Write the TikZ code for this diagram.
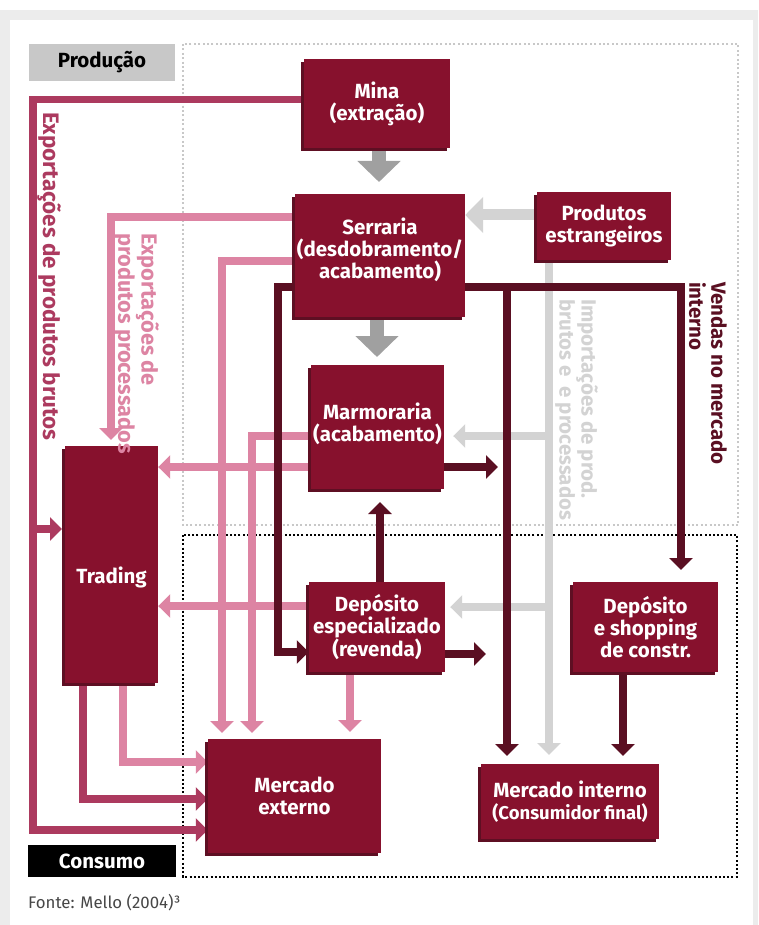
\documentclass[tikz,border=0pt]{standalone}
\usepackage{fontspec}
\setmainfont{Fira Sans}
\usetikzlibrary{arrows.meta,shadows,calc}
\definecolor{boxc}{HTML}{87112D}
\definecolor{shadc}{HTML}{5E0F23}
\definecolor{dkc}{HTML}{5A0F22}
\definecolor{brc}{HTML}{AC3A5F}
\definecolor{pkc}{HTML}{DD84A3}
\definecolor{lgc}{HTML}{D3D3D3}
\definecolor{bgc}{HTML}{A0A0A0}
\definecolor{prodc}{HTML}{C8C8C8}
\definecolor{framec}{HTML}{ECECEC}
\pgfdeclarelayer{back}
\pgfdeclarelayer{lines}
\pgfsetlayers{back,lines,main}
\begin{document}
\begin{tikzpicture}[x=1pt,y=-1pt,
  box/.style={fill=boxc,text=white,font=\bfseries\fontsize{20.5}{22}\selectfont,align=center,inner sep=0pt,
    drop shadow={shadow xshift=-3pt,shadow yshift=-3pt,fill=shadc,opacity=1}},
  boxtext/.style={text=white,font=\bfseries\fontsize{20.5}{22}\selectfont,align=center,inner sep=0pt},
  rot/.style={rotate=-90,inner sep=0pt,align=left,anchor=north west,font=\bfseries\fontsize{20.5}{22}\selectfont},
  ah/.style={-{Triangle[width=23pt,length=12pt]}},
  dk/.style={draw=dkc,line width=7.5pt,ah},
  br/.style={draw=brc,line width=7.5pt,ah},
  pk/.style={draw=pkc,line width=7.5pt,ah},
  lg/.style={draw=lgc,line width=8pt,ah},
  lgbig/.style={draw=lgc,line width=11pt,-{Triangle[width=35pt,length=18pt]}},
  bigg/.style={draw=bgc,line width=14pt,-{Triangle[width=42pt,length=21pt]}},
  gdot/.style={draw=prodc,line width=2.2pt,dash pattern=on 2pt off 2.4pt},
  kdot/.style={draw=black,line width=2.5pt,dash pattern=on 2pt off 2.2pt},
]
\useasboundingbox (0,0) rectangle (758,925);
\begin{pgfonlayer}{back}
% background frame
\fill[framec] (0,10) rectangle (758,925);
\fill[white] (10,20) rectangle (753,925);
% zone boxes
\draw[gdot] (183,44) rectangle (738,525);
\draw[kdot] (183,535) rectangle (737,877);
\end{pgfonlayer}
% zone labels
\node[fill=prodc,minimum width=146pt,minimum height=37pt,inner sep=0pt,font=\bfseries\fontsize{20.5}{22}\selectfont] (prod) at (102,62.5) {Produção};
\node[fill=black,text=white,minimum width=148pt,minimum height=32pt,inner sep=0pt,font=\bfseries\fontsize{20.5}{22}\selectfont] (cons) at (102,861) {Consumo};
\node[anchor=west,inner sep=0pt,text=black!72,font=\fontsize{16.8}{20}\selectfont] (fonte) at (28,903) {Fonte: Mello (2004)³};

% boxes
\node[box,minimum width=146pt,minimum height=89pt] (mina) at (377,103.5) {Mina\\(extração)};
\node[box,minimum width=170pt,minimum height=123pt] (serraria) at (380,255.5) {};
\node[boxtext] (serrariat) at (380,250) {Serraria\\(desdobramento/\\acabamento)};
\node[box,minimum width=134pt,minimum height=68pt] (prodest) at (604,226) {Produtos\\estrangeiros};
\node[box,minimum width=133pt,minimum height=124pt] (marm) at (377.5,427) {};
\node[boxtext] (marmt) at (377.5,424) {Marmoraria\\(acabamento)};
\node[box,minimum width=93pt,minimum height=237pt] (trading) at (111.5,564.5) {};
\node[boxtext] (tradingt) at (111.5,577) {Trading};
\node[box,minimum width=136pt,minimum height=90pt] (depesp) at (377,627) {Depósito\\especializado\\(revenda)};
\node[box,minimum width=145pt,minimum height=90pt] (depshop) at (645.5,627) {Depósito\\e shopping\\de constr.};
\node[box,minimum width=173pt,minimum height=114pt] (mext) at (294.5,796) {Mercado\\externo};
\node[box,minimum width=178pt,minimum height=75pt] (mint) at (570,801.5) {};
\node[boxtext] (mintt) at (570,801.5) {Mercado interno\\{\fontsize{18.5}{20}\selectfont(Consumidor final)}};

% rotated labels
\node[rot,text=brc,font=\bfseries\fontsize{22.4}{22}\selectfont] (tbrutos) at (61,112) {Exportações de produtos brutos};
\node[rot,text=pkc,font=\bfseries\fontsize{21.8}{21}\selectfont] (tproc) at (159,233) {Exportações de\\produtos processados};
\node[rot,text=lgc] (timp) at (598,299) {Importações de prod.\\brutos e \ e processados};
\node[rot,text=dkc] (tvendas) at (727,282) {Vendas no mercado\\interno};

% free ends / junctions
\coordinate (jbr) at (33,529);
\coordinate (tbr) at (62,529);
\coordinate (tpk) at (111,440);
\coordinate (jlgm) at (549,436);
\coordinate (jlgd) at (549,607);
\coordinate (tlgi) at (549,755);
\coordinate (jdkm) at (507,287);
\coordinate (tdkm) at (507,756);
\coordinate (tdkr) at (681,570);
\coordinate (tdkd) at (623,756);
\coordinate (tmarmr) at (498,467);
\coordinate (tdepr) at (486,654);
\coordinate (tdepu) at (380,502);

\begin{pgfonlayer}{lines}
% brutos
\draw[br] (mina.west |- 0,99.5) -| (33,830) -- (mext.west |- 0,830);
\draw[br] (jbr) -- (tbr);
\draw[br] (trading.south -| 83,0) |- (mext.west |- 0,799);
% processed exports (pink)
\draw[pk] (serraria.west |- 0,217) -| (tpk);
\draw[pk] (serraria.west |- 0,261) -| (222,733);
\draw[pk] (marm.west |- 0,436) -| (252,733);
\draw[pk] (marm.west |- 0,467) -- (trading.east |- 0,467);
\draw[pk] (depesp.west |- 0,606) -- (trading.east |- 0,606);
\draw[pk] (depesp.south -| 350,0) -- (350,732);
\draw[pk] (trading.south -| 123,0) |- (mext.west |- 0,762);
% imports (light grey)
\draw[lgbig] (prodest.west |- 0,215) -- (serraria.east |- 0,215);
\draw[lg] (prodest.south -| 549,0) -- (tlgi);
\draw[lg] (jlgm) -- ($(marm.east |- jlgm)+(9,0)$);
\draw[lg] (jlgd) -- ($(depesp.east |- jlgd)+(5,0)$);
% internal sales (dark)
\draw[dk] (serraria.center |- 0,287) -| (278,652) -- (depesp.west |- 0,652);
\draw[dk] (serraria.center |- 0,287) -| (tdkr);
\draw[dk] (jdkm) -- (tdkm);
\draw[dk] (marm.east |- tmarmr) -- (tmarmr);
\draw[dk] (depesp.east |- tdepr) -- (tdepr);
\draw[dk] (depesp.north -| tdepu) -- (tdepu);
\draw[dk] (depshop.south -| tdkd) -- (tdkd);
% big grey flow arrows
\draw[bigg] (mina.south -| 379,0) -- (379,182);
\draw[bigg] (serraria.south -| 377,0) -- (377,357);
\end{pgfonlayer}
\end{tikzpicture}
\end{document}
